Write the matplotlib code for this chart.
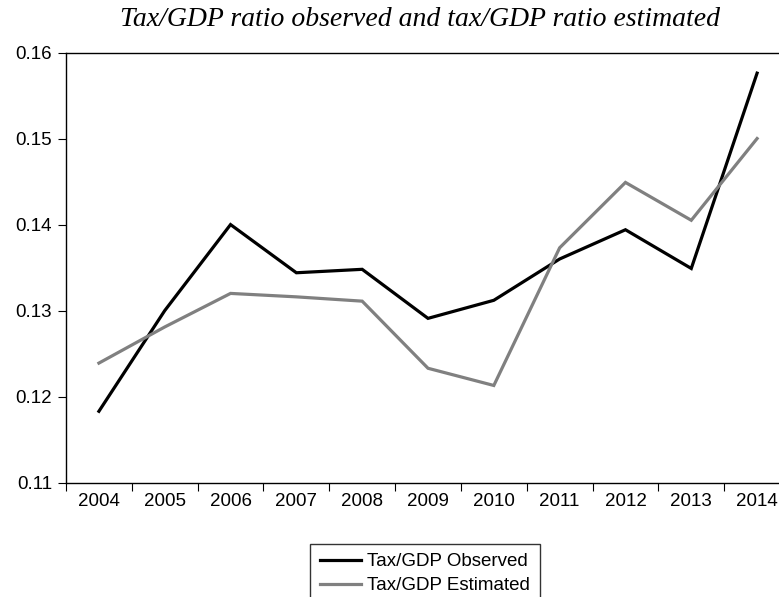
import matplotlib
matplotlib.use("Agg")
import matplotlib.pyplot as plt
from matplotlib.ticker import FixedLocator, NullFormatter

years = [2004, 2005, 2006, 2007, 2008, 2009, 2010, 2011, 2012, 2013, 2014]
observed = [0.1183, 0.1300, 0.1400, 0.1344, 0.1348, 0.1291, 0.1312, 0.1360, 0.1394, 0.1349, 0.1576]
estimated = [0.1239, 0.1281, 0.1320, 0.1316, 0.1311, 0.1233, 0.1213, 0.1373, 0.1449, 0.1405, 0.1500]
yticks = [0.11, 0.12, 0.13, 0.14, 0.15, 0.16]
ytick_labels = ["0.11", "0.12", "0.13", "0.14", "0.15", "0.16"]

plt.rcParams['font.family'] = ['Liberation Sans', 'DejaVu Sans']
FS = 13.5

fig = plt.figure(figsize=(7.79, 5.97), dpi=100)
ax = fig.add_axes([66/779, 1 - 482.7/597, 724/779, (482.7 - 52.5)/597])

l1, = ax.plot(years, observed, color='black', lw=2.3, solid_joinstyle='miter', label='Tax/GDP Observed')
l2, = ax.plot(years, estimated, color='#808080', lw=2.3, solid_joinstyle='miter', label='Tax/GDP Estimated')

ax.set_xlim(years[0] - 0.5, years[-1] + 0.5)
ax.set_ylim(yticks[0], yticks[-1])
ax.set_yticks(yticks)
ax.set_yticklabels(ytick_labels, fontsize=FS)

ax.xaxis.set_major_locator(FixedLocator([y - 0.5 for y in years] + [years[-1] + 0.5]))
ax.xaxis.set_major_formatter(NullFormatter())
ax.set_xticks(years, minor=True)
ax.set_xticklabels([str(y) for y in years], minor=True, fontsize=FS)
ax.tick_params(axis='x', which='major', length=5.5, width=0.8, direction='out')
ax.tick_params(axis='x', which='minor', length=0, pad=7.5)
ax.tick_params(axis='y', length=6, width=0.8, pad=4)

for s in ['left', 'top', 'bottom', 'right']:
    ax.spines[s].set_linewidth(1.0)

fig.text(420/779, 1 - 26/597, 'Tax/GDP ratio observed and tax/GDP ratio estimated',
         ha='center', va='baseline', fontsize=20, family=['Liberation Serif', 'DejaVu Serif'], style='italic')

leg = fig.legend(handles=[l1, l2], loc='upper center', bbox_to_anchor=(425/779, 1 - 544/597),
                 fontsize=FS, frameon=True, fancybox=False, edgecolor='#333333', framealpha=1,
                 handlelength=2.2, handletextpad=0.33, borderpad=0.5, labelspacing=0.35,
                 borderaxespad=0)
leg.get_frame().set_linewidth(1.0)

fig.savefig('out.png', dpi=100)
